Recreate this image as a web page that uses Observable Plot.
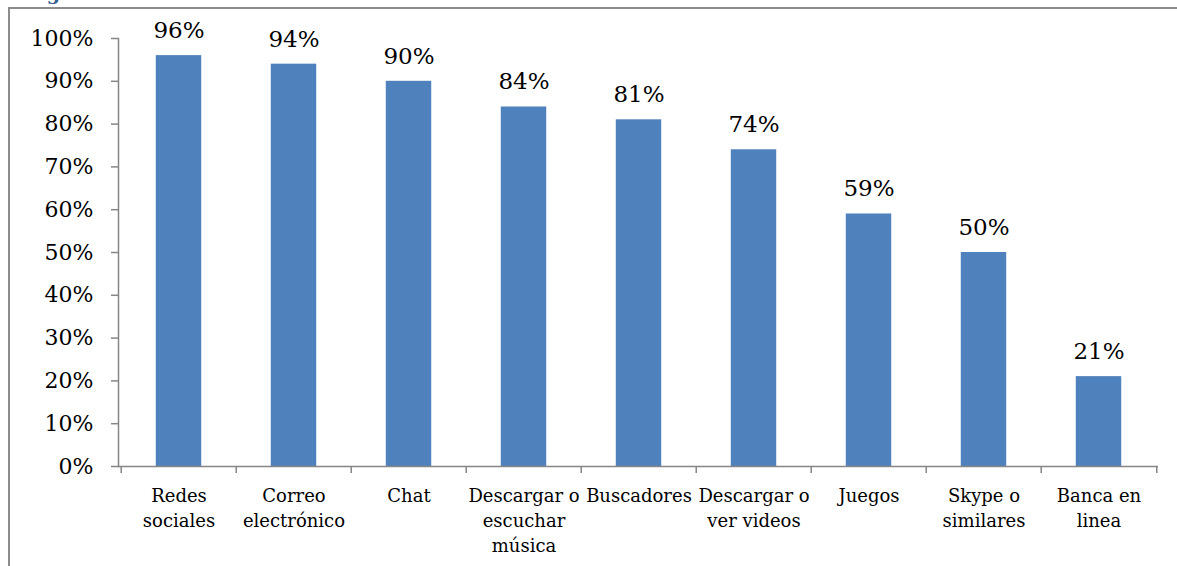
<!DOCTYPE html>
<html>
<head>
<meta charset="utf-8">
<script src="https://cdn.jsdelivr.net/npm/d3@7"></script>
<script src="https://cdn.jsdelivr.net/npm/@observablehq/plot@0.6"></script>
<style>
  html, body { margin: 0; padding: 0; background: #fff; overflow: hidden; }
  #wrap { position: relative; width: 1177px; height: 566px; overflow: hidden; }
  #title { position: absolute; left: 26px; top: -18px; font: bold 19px "DejaVu Serif", serif; color: #366092; white-space: nowrap; }
  #frame { position: absolute; left: 8px; top: 7px; width: 1169px; height: 559px; border-left: 2px solid #8c8c8c; border-top: 2px solid #8c8c8c; box-sizing: border-box; }
  #chart { position: absolute; left: 0; top: 0; }
</style>
</head>
<body>
<div id="wrap">
  <div id="title">Figura 11</div>
  <div id="frame"></div>
  <div id="chart"></div>
</div>
<script>
const categories = ["Redes sociales", "Correo electrónico", "Chat", "Descargar o escuchar música", "Buscadores", "Descargar o ver videos", "Juegos", "Skype o similares", "Banca en linea"];
const tickLabels = ["Redes\nsociales", "Correo\nelectrónico", "Chat", "Descargar o\nescuchar\nmúsica", "Buscadores", "Descargar o\nver videos", "Juegos", "Skype o\nsimilares", "Banca en\nlinea"];
const values = [96, 94, 90, 84, 81, 74, 59, 50, 21];
const yTicks = [0, 10, 20, 30, 40, 50, 60, 70, 80, 90, 100];

const data = categories.map((c, i) => ({category: c, value: values[i]}));
const labelOf = new Map(categories.map((c, i) => [c, tickLabels[i]]));

const W = 1177, H = 566, mL = 118, mR = 19, mT = 38, mB = 100;
const bw = (W - mL - mR) / categories.length;
const inset = (bw - 46) / 2;
const axisColor = "#868686";

const plot = Plot.plot({
  width: W,
  height: H,
  marginLeft: mL,
  marginRight: mR,
  marginTop: mT,
  marginBottom: mB,
  style: {fontFamily: "DejaVu Serif, serif", background: "transparent", overflow: "visible"},
  x: {domain: categories, padding: 0, label: null},
  y: {domain: [0, 100], label: null},
  marks: [
    Plot.barY(data, {x: "category", y: "value", fill: "#4f81bd", insetLeft: inset, insetRight: inset}),
    Plot.text(data, {x: "category", y: "value", text: d => d.value + "%", dy: -25, fontSize: 23, fill: "#000"}),
    Plot.axisY(yTicks, {label: null, tickSize: 7, tickPadding: 18, tickFormat: d => d + "%", fontSize: 22, stroke: axisColor, fill: "#000", strokeWidth: 1.5}),
    Plot.axisX({label: null, tickSize: 0, tickPadding: 18, tickFormat: d => labelOf.get(d), fontSize: 18, lineHeight: 1.39, fill: "#000", textAnchor: "middle"}),
    Plot.axisX({label: null, tickSize: 7, text: null, dx: -bw / 2, stroke: axisColor, strokeWidth: 1.5}),
    Plot.axisX(categories.slice(-1), {label: null, tickSize: 7, text: null, dx: bw / 2, stroke: axisColor, strokeWidth: 1.5}),
    Plot.ruleY([0], {stroke: axisColor, strokeWidth: 1.5}),
    Plot.frame({anchor: "left", stroke: axisColor, strokeWidth: 1.5})
  ]
});
document.getElementById("chart").appendChild(plot);
</script>
</body>
</html>
